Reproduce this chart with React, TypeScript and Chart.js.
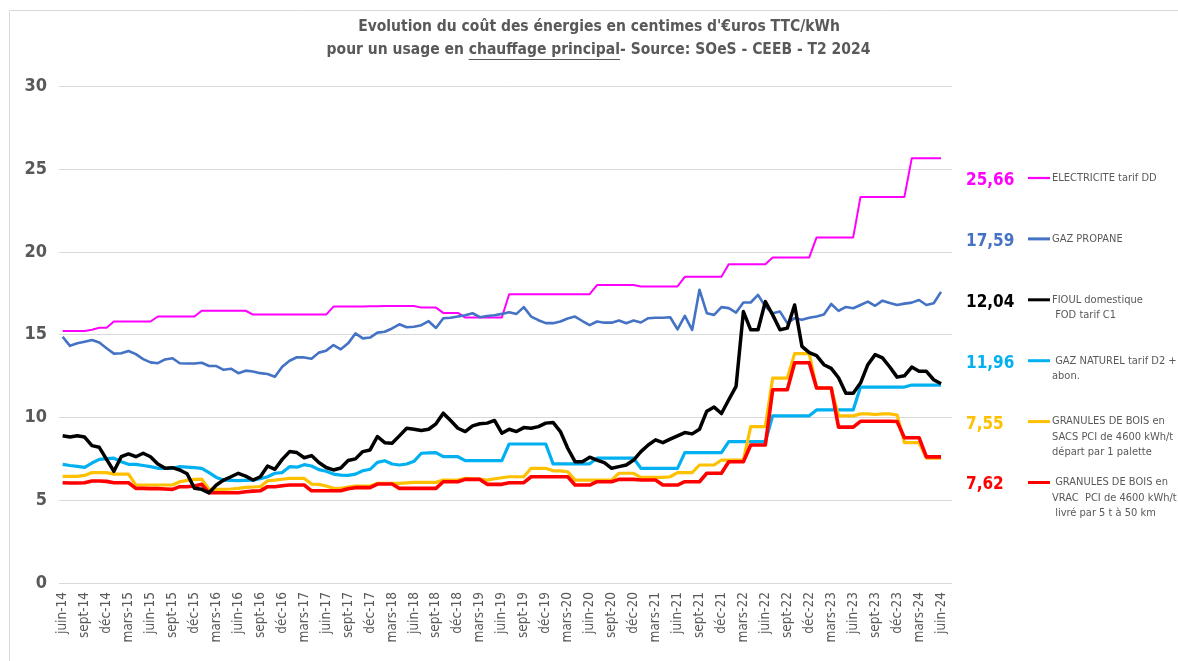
import React, { useEffect, useRef } from "react";
import { Chart, registerables } from "chart.js";

Chart.register(...registerables);

// ---------- Data ----------
const MONTH_NAMES = ["janv", "févr", "mars", "avr", "mai", "juin", "juil", "août", "sept", "oct", "nov", "déc"];
const START_YEAR = 2014;
const START_MONTH = 5; // juin
const CATEGORY_COUNT = 122; // juin-14 .. juil-24 (last category empty)
const TICK_EVERY = 3;

const categories: string[] = Array.from({ length: CATEGORY_COUNT }, (_, k) => {
  const m = (START_MONTH + k) % 12;
  const y = START_YEAR + Math.floor((START_MONTH + k) / 12);
  return `${MONTH_NAMES[m]}-${String(y).slice(2)}`;
});

const electricite = [
  15.22, 15.22, 15.22, 15.22, 15.3, 15.42, 15.42, 15.8, 15.8, 15.8,
  15.8, 15.8, 15.8, 16.1, 16.1, 16.1, 16.1, 16.1, 16.1, 16.45,
  16.45, 16.45, 16.45, 16.45, 16.45, 16.45, 16.22, 16.22, 16.22, 16.22,
  16.22, 16.22, 16.22, 16.22, 16.22, 16.22, 16.22, 16.7, 16.7, 16.7,
  16.7, 16.7, 16.72, 16.72, 16.74, 16.74, 16.74, 16.74, 16.74, 16.64,
  16.64, 16.64, 16.32, 16.32, 16.32, 16.04, 16.04, 16.04, 16.04, 16.04,
  16.04, 17.45, 17.45, 17.45, 17.45, 17.45, 17.45, 17.45, 17.45, 17.45,
  17.45, 17.45, 17.45, 18.0, 18.0, 18.0, 18.0, 18.0, 18.0, 17.92,
  17.92, 17.92, 17.92, 17.92, 17.92, 18.5, 18.5, 18.5, 18.5, 18.5,
  18.5, 19.26, 19.26, 19.26, 19.26, 19.26, 19.26, 19.67, 19.67, 19.67,
  19.67, 19.67, 19.67, 20.88, 20.88, 20.88, 20.88, 20.88, 20.88, 23.33,
  23.33, 23.33, 23.33, 23.33, 23.33, 23.33, 25.66, 25.66, 25.66, 25.66,
  25.66,
];

const gazPropane = [
  14.88, 14.33, 14.48, 14.58, 14.68, 14.53, 14.18, 13.86, 13.88, 14.02,
  13.83, 13.53, 13.33, 13.28, 13.51, 13.58, 13.28, 13.26, 13.26, 13.31,
  13.11, 13.11, 12.88, 12.95, 12.68, 12.83, 12.78, 12.68, 12.63, 12.46,
  13.07, 13.43, 13.64, 13.63, 13.55, 13.92, 14.04, 14.38, 14.12, 14.48,
  15.08, 14.78, 14.83, 15.13, 15.18, 15.38, 15.63, 15.45, 15.48, 15.58,
  15.82, 15.41, 16.0, 16.03, 16.1, 16.18, 16.3, 16.06, 16.13, 16.18,
  16.26, 16.36, 16.26, 16.67, 16.1, 15.88, 15.7, 15.7, 15.8, 15.98,
  16.1, 15.83, 15.58, 15.8, 15.73, 15.73, 15.86, 15.7, 15.86, 15.74,
  16.0, 16.03, 16.03, 16.06, 15.33, 16.14, 15.29, 17.72, 16.3, 16.2,
  16.67, 16.61, 16.34, 16.95, 16.95, 17.41, 16.7, 16.3, 16.4, 15.7,
  16.0, 15.9, 16.03, 16.1, 16.22, 16.86, 16.44, 16.68, 16.6, 16.8,
  17.0, 16.75, 17.06, 16.92, 16.8, 16.88, 16.94, 17.1, 16.8, 16.9,
  17.59,
];

const fioulDomestique = [
  8.9, 8.82, 8.9, 8.82, 8.3, 8.2, 7.47, 6.75, 7.63, 7.8,
  7.63, 7.84, 7.63, 7.19, 6.93, 6.97, 6.83, 6.6, 5.72, 5.66,
  5.45, 5.92, 6.22, 6.42, 6.63, 6.46, 6.22, 6.42, 7.07, 6.87,
  7.47, 7.94, 7.88, 7.57, 7.7, 7.28, 6.98, 6.83, 6.95, 7.4,
  7.5, 7.94, 8.04, 8.85, 8.48, 8.45, 8.89, 9.35, 9.29, 9.21,
  9.29, 9.62, 10.26, 9.82, 9.35, 9.15, 9.49, 9.62, 9.66, 9.82,
  9.05, 9.29, 9.15, 9.39, 9.35, 9.45, 9.66, 9.7, 9.15, 8.14,
  7.33, 7.33, 7.6, 7.43, 7.27, 6.93, 7.03, 7.13, 7.43, 7.94,
  8.34, 8.65, 8.48, 8.69, 8.89, 9.09, 9.01, 9.29, 10.38, 10.63,
  10.24, 11.07, 11.88, 16.4, 15.3, 15.3, 17.0, 16.2, 15.3, 15.4,
  16.8, 14.3, 13.92, 13.74, 13.19, 12.97, 12.4, 11.47, 11.47, 12.08,
  13.19, 13.8, 13.6, 13.05, 12.44, 12.52, 13.05, 12.79, 12.79, 12.28,
  12.04,
];

const gazNaturel = [
  7.17, 7.1, 7.05, 6.99, 7.25, 7.47, 7.52, 7.54, 7.33, 7.17,
  7.17, 7.1, 7.03, 6.93, 6.93, 6.93, 7.03, 7.0, 6.97, 6.93,
  6.67, 6.38, 6.22, 6.2, 6.18, 6.2, 6.22, 6.3, 6.42, 6.63,
  6.67, 7.03, 7.0, 7.15, 7.07, 6.85, 6.75, 6.58, 6.52, 6.5,
  6.58, 6.78, 6.87, 7.29, 7.39, 7.19, 7.13, 7.19, 7.35, 7.84,
  7.86, 7.88, 7.63, 7.63, 7.63, 7.39, 7.39, 7.39, 7.39, 7.39,
  7.39, 8.4, 8.4, 8.4, 8.4, 8.4, 8.4, 7.2, 7.2, 7.2,
  7.2, 7.2, 7.2, 7.54, 7.54, 7.54, 7.54, 7.54, 7.54, 6.93,
  6.93, 6.93, 6.93, 6.93, 6.93, 7.88, 7.88, 7.88, 7.88, 7.88,
  7.88, 8.54, 8.54, 8.54, 8.54, 8.54, 8.54, 10.1, 10.1, 10.1,
  10.1, 10.1, 10.1, 10.46, 10.46, 10.46, 10.46, 10.46, 10.46, 11.84,
  11.84, 11.84, 11.84, 11.84, 11.84, 11.84, 11.96, 11.96, 11.96, 11.96,
  11.96,
];

const granulesSacs = [
  6.44, 6.44, 6.44, 6.5, 6.67, 6.67, 6.67, 6.58, 6.58, 6.58,
  5.92, 5.92, 5.92, 5.92, 5.92, 5.92, 6.12, 6.2, 6.26, 6.28,
  5.66, 5.66, 5.66, 5.68, 5.72, 5.78, 5.8, 5.82, 6.18, 6.22,
  6.27, 6.32, 6.32, 6.32, 5.98, 5.96, 5.86, 5.72, 5.72, 5.8,
  5.86, 5.86, 5.86, 6.02, 6.02, 6.02, 6.02, 6.05, 6.08, 6.08,
  6.08, 6.08, 6.22, 6.22, 6.22, 6.32, 6.3, 6.28, 6.22, 6.3,
  6.36, 6.42, 6.42, 6.42, 6.93, 6.93, 6.93, 6.78, 6.78, 6.72,
  6.22, 6.22, 6.22, 6.22, 6.22, 6.22, 6.63, 6.63, 6.63, 6.38,
  6.38, 6.38, 6.38, 6.42, 6.67, 6.67, 6.67, 7.13, 7.13, 7.13,
  7.43, 7.43, 7.43, 7.43, 9.45, 9.45, 9.45, 12.38, 12.38, 12.38,
  13.86, 13.86, 13.86, 11.78, 11.78, 11.78, 10.1, 10.1, 10.1, 10.22,
  10.22, 10.18, 10.22, 10.22, 10.15, 8.48, 8.48, 8.48, 7.55, 7.55,
  7.55,
];

const granulesVrac = [
  6.06, 6.04, 6.04, 6.06, 6.16, 6.16, 6.14, 6.06, 6.06, 6.06,
  5.72, 5.72, 5.7, 5.7, 5.68, 5.66, 5.82, 5.82, 5.86, 5.96,
  5.45, 5.45, 5.45, 5.45, 5.45, 5.51, 5.55, 5.57, 5.82, 5.82,
  5.88, 5.92, 5.92, 5.92, 5.57, 5.57, 5.57, 5.57, 5.57, 5.7,
  5.76, 5.76, 5.76, 5.98, 5.98, 5.98, 5.72, 5.72, 5.72, 5.72,
  5.72, 5.72, 6.12, 6.12, 6.12, 6.26, 6.26, 6.26, 5.96, 5.96,
  5.96, 6.06, 6.06, 6.06, 6.42, 6.42, 6.42, 6.42, 6.42, 6.42,
  5.92, 5.92, 5.92, 6.12, 6.12, 6.12, 6.26, 6.26, 6.26, 6.22,
  6.22, 6.22, 5.92, 5.92, 5.92, 6.12, 6.12, 6.12, 6.63, 6.63,
  6.63, 7.33, 7.33, 7.33, 8.34, 8.34, 8.34, 11.68, 11.68, 11.68,
  13.31, 13.31, 13.31, 11.78, 11.78, 11.78, 9.42, 9.42, 9.42, 9.77,
  9.77, 9.77, 9.77, 9.77, 9.76, 8.78, 8.78, 8.78, 7.62, 7.62,
  7.62,
];

const seriesNames = [
  ["ELECTRICITE tarif DD"],
  ["GAZ PROPANE"],
  ["FIOUL domestique", " FOD tarif C1"],
  [" GAZ NATUREL tarif D2 +", "abon."],
  ["GRANULES DE BOIS en", "SACS PCI de 4600 kWh/t", "départ par 1 palette"],
  [" GRANULES DE BOIS en", "VRAC  PCI de 4600 kWh/t", " livré par 5 t à 50 km"],
];
const seriesData = [electricite, gazPropane, fioulDomestique, gazNaturel, granulesSacs, granulesVrac];
const seriesColors = ["#FF00FF", "#4472C4", "#000000", "#00B0F0", "#FFC000", "#FF0000"];
const seriesWidths = [2, 2.6, 3.5, 3.2, 3.2, 3.6];
const seriesOrder = [5, 4, 0, 3, 2, 1];

const TITLE_LINE1 = "Evolution du coût des énergies en centimes d'€uros TTC/kWh";
const TITLE_LINE2 = ["pour un usage en ", "chauffage principal", "- Source: SOeS - CEEB - T2 2024"];

const Y_MIN = 0;
const Y_MAX = 30;
const Y_STEP = 5;

// ---------- Styling ----------
const FONT = "'Liberation Sans Narrow', 'DejaVu Sans Condensed', 'Open Sans', sans-serif";
const TEXT_GRAY = "#595959";
const GRID_GRAY = "#d9d9d9";

const fmt = (v: number) => v.toFixed(2).replace(".", ",");

const overlayPlugin = {
  id: "overlay",
  beforeDraw(chart: any) {
    const ctx = chart.ctx as CanvasRenderingContext2D;
    ctx.save();
    ctx.fillStyle = "#ffffff";
    ctx.fillRect(0, 0, chart.width, chart.height);
    ctx.strokeStyle = GRID_GRAY;
    ctx.lineWidth = 1;
    ctx.beginPath();
    ctx.moveTo(9.5, chart.height);
    ctx.lineTo(9.5, 10.5);
    ctx.lineTo(chart.width, 10.5);
    ctx.stroke();
    ctx.restore();
  },
  afterDraw(chart: any) {
    const ctx = chart.ctx as CanvasRenderingContext2D;
    ctx.save();
    // Title
    ctx.fillStyle = TEXT_GRAY;
    ctx.strokeStyle = TEXT_GRAY;
    ctx.font = `bold 15.5px ${FONT}`;
    ctx.textBaseline = "middle";
    ctx.textAlign = "center";
    ctx.fillText(TITLE_LINE1, 599, 27);
    const widths = TITLE_LINE2.map((t) => ctx.measureText(t).width);
    const total = widths.reduce((a, b) => a + b, 0);
    let x = 598.5 - total / 2;
    ctx.textAlign = "left";
    TITLE_LINE2.forEach((t, i) => {
      ctx.fillText(t, x, 50);
      if (i === 1) {
        ctx.lineWidth = 1;
        ctx.beginPath();
        ctx.moveTo(x, 59.5);
        ctx.lineTo(x + widths[i], 59.5);
        ctx.stroke();
      }
      x += widths[i];
    });

    // Right-hand legend with last values
    const baseY = 178;
    const stepY = 60.9;
    seriesData.forEach((data, k) => {
      const y = baseY + k * stepY;
      const color = seriesColors[k];
      ctx.fillStyle = color;
      ctx.font = `bold 17px ${FONT}`;
      ctx.textAlign = "left";
      ctx.textBaseline = "middle";
      ctx.fillText(fmt(data[data.length - 1]), 966, y + 2.5);
      ctx.strokeStyle = color;
      ctx.lineWidth = k === 0 ? 2.2 : 3;
      ctx.beginPath();
      ctx.moveTo(1028, y);
      ctx.lineTo(1050, y);
      ctx.stroke();
      ctx.fillStyle = TEXT_GRAY;
      ctx.font = `11px ${FONT}`;
      seriesNames[k].forEach((line, j) => {
        ctx.fillText(line, 1052, y + j * 15.5);
      });
    });
    ctx.restore();
  },
};

export default function App() {
  const canvasRef = useRef<HTMLCanvasElement | null>(null);

  useEffect(() => {
    if (!canvasRef.current) return;
    const chart = new Chart(canvasRef.current, {
      type: "line",
      data: {
        labels: categories,
        datasets: seriesData.map((data, k) => ({
          label: seriesNames[k].join(" "),
          data,
          borderColor: seriesColors[k],
          backgroundColor: seriesColors[k],
          borderWidth: seriesWidths[k],
          pointRadius: 0,
          tension: 0,
          fill: false,
          order: seriesOrder[k],
          borderJoinStyle: "round" as const,
        })),
      },
      options: {
        animation: false,
        responsive: false,
        layout: { padding: { top: 86.5, right: 226, bottom: 0, left: 0 } },
        plugins: {
          legend: { display: false },
          title: { display: false },
          tooltip: { enabled: false },
        },
        scales: {
          x: {
            type: "category",
            offset: true,
            grid: { display: false, drawTicks: false },
            border: { display: false },
            ticks: {
              autoSkip: false,
              minRotation: 90,
              maxRotation: 90,
              padding: 9,
              color: TEXT_GRAY,
              font: { family: FONT, size: 13.5 },
              callback: (_v: any, i: number) => (i % TICK_EVERY === 0 && i < categories.length - 1 ? categories[i] : null),
            },
            afterFit: (s: any) => {
              s.height = 78;
            },
          },
          y: {
            min: Y_MIN,
            max: Y_MAX,
            grid: { color: GRID_GRAY, lineWidth: 1, drawTicks: false },
            border: { display: false },
            ticks: {
              stepSize: Y_STEP,
              padding: 12,
              color: TEXT_GRAY,
              font: { family: FONT, size: 18, weight: "bold" },
            },
            afterFit: (s: any) => {
              s.width = 59;
            },
          },
        },
      },
      plugins: [overlayPlugin],
    });
    return () => chart.destroy();
  }, []);

  return (
    <div style={{ position: "fixed", left: 0, top: 0, width: 1178, height: 661, background: "#fff" }}>
      <canvas ref={canvasRef} width={1178} height={661} style={{ display: "block" }} />
    </div>
  );
}
